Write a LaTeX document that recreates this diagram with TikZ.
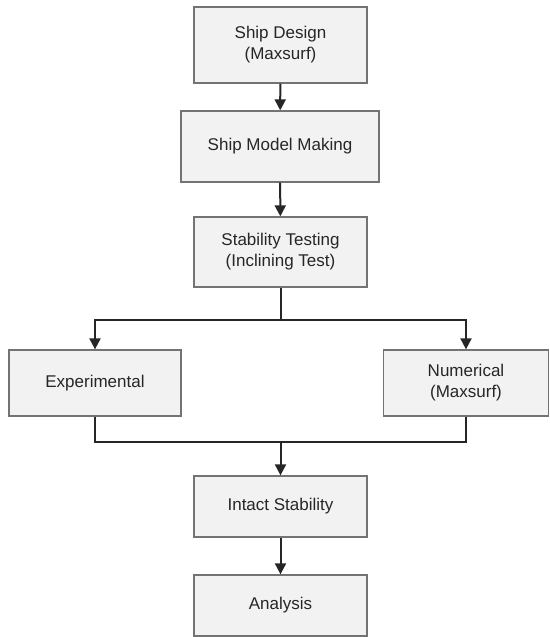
\documentclass[tikz,border=0pt]{standalone}
\usepackage{fontspec}
\setmainfont{Liberation Sans}
\usetikzlibrary{arrows.meta}
\begin{document}
\begin{tikzpicture}[x=1pt,y=1pt,
  box/.style={draw=black!55,fill=black!5,line width=1.3pt,align=center,
    font=\fontsize{17}{21}\selectfont,text=black!85,inner sep=0pt},
  conn/.style={line width=2pt,black!85},
  arr/.style={conn,-{Triangle[length=11pt,width=11pt]}}]
\useasboundingbox (0,0) rectangle (549,-637);
\node[box,minimum width=173pt,minimum height=76pt] (b1) at (280.5,-45) {Ship Design\\(Maxsurf)};
\node[box,minimum width=198pt,minimum height=71pt] (b2) at (280,-146.5) {Ship Model Making};
\node[box,minimum width=173pt,minimum height=70pt] (b3) at (280.5,-252) {Stability Testing\\(Inclining Test)};
\node[box,minimum width=172pt,minimum height=66pt] (exp) at (95,-383) {Experimental};
\node[box,minimum width=165pt,minimum height=66pt] (num) at (466,-383) {Numerical\\(Maxsurf)};
\node[box,minimum width=173pt,minimum height=61pt] (intact) at (280.5,-506.5) {Intact Stability};
\node[box,minimum width=173pt,minimum height=61pt] (ana) at (280.5,-605.5) {Analysis};
\coordinate (split) at (280.5,-320);
\coordinate (merge) at (280.5,-442);
\draw[arr] (b1) -- (b2);
\draw[arr] (b2) -- (b3);
\draw[conn] (b3) -- (split);
\draw[arr] (split) -| (exp);
\draw[arr] (split) -| (num);
\draw[conn] (exp.south) |- (merge);
\draw[conn] (num.south) |- (merge);
\draw[arr] (merge) -- (intact);
\draw[arr] (intact) -- (ana);
\end{tikzpicture}
\end{document}
